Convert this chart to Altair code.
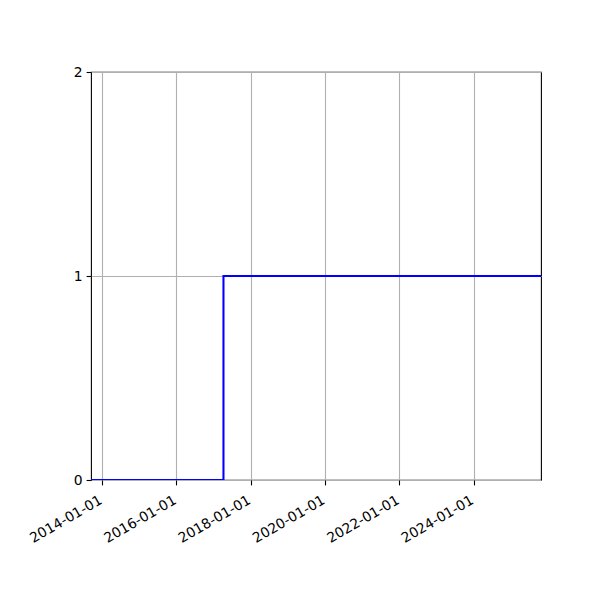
import altair as alt
import pandas as pd

dates = ["2013-09-14", "2017-04-08", "2025-10-24"]
values = [0, 1, 1]
tick_years = [2014, 2016, 2018, 2020, 2022, 2024]
y_ticks = [0, 1, 2]

df = pd.DataFrame({"date": dates, "value": values})

x_axis = alt.Axis(
    values=[alt.DateTime(year=y, month=1, date=1, utc=True) for y in tick_years],
    labelExpr="utcFormat(datum.value, '%Y-%m-%d')",
    labelAngle=-30,
    labelAlign="right",
    labelBaseline="top",
    labelFont="DejaVu Sans",
    labelFontSize=13.9,
    labelColor="black",
    labelPadding=8,
    labelOffset=-5,
    tickColor="black",
    tickSize=4.9,
    tickWidth=1.1,
    domain=False,
    grid=True,
    gridColor="#b0b0b0",
    gridWidth=1.1,
    title=None,
    labelOverlap=False,
    labelFlush=False,
)
y_axis = alt.Axis(
    values=y_ticks,
    labelExpr="format(datum.value, 'd')",
    labelFont="DejaVu Sans",
    labelFontSize=13.9,
    labelColor="black",
    labelPadding=4,
    labelOverlap=False,
    labelFlush=False,
    tickColor="black",
    tickSize=4.9,
    tickWidth=1.1,
    domain=False,
    grid=True,
    gridColor="#b0b0b0",
    gridWidth=1.1,
    title=None,
)

chart = (
    alt.Chart(df)
    .mark_line(interpolate="step-after", color="blue", strokeWidth=2.08, clip=True)
    .encode(
        x=alt.X(
            "date:T",
            scale=alt.Scale(
                type="utc",
                domain=[
                    alt.DateTime(year=2013, month=9, date=14, utc=True),
                    alt.DateTime(year=2025, month=10, date=24, utc=True),
                ],
                nice=False,
            ),
            axis=x_axis,
        ),
        y=alt.Y("value:Q", scale=alt.Scale(domain=[0, 2], nice=False), axis=y_axis),
    )
    .properties(
        width=450,
        height=408,
        autosize=alt.AutoSizeParams(type="none"),
        padding={"left": 83, "top": 64, "right": 51, "bottom": 112},
        background="white",
    )
    .configure_view(stroke="black", strokeWidth=1.1)
)

chart.save("out.html", embed_options={"renderer": "svg", "actions": False})
